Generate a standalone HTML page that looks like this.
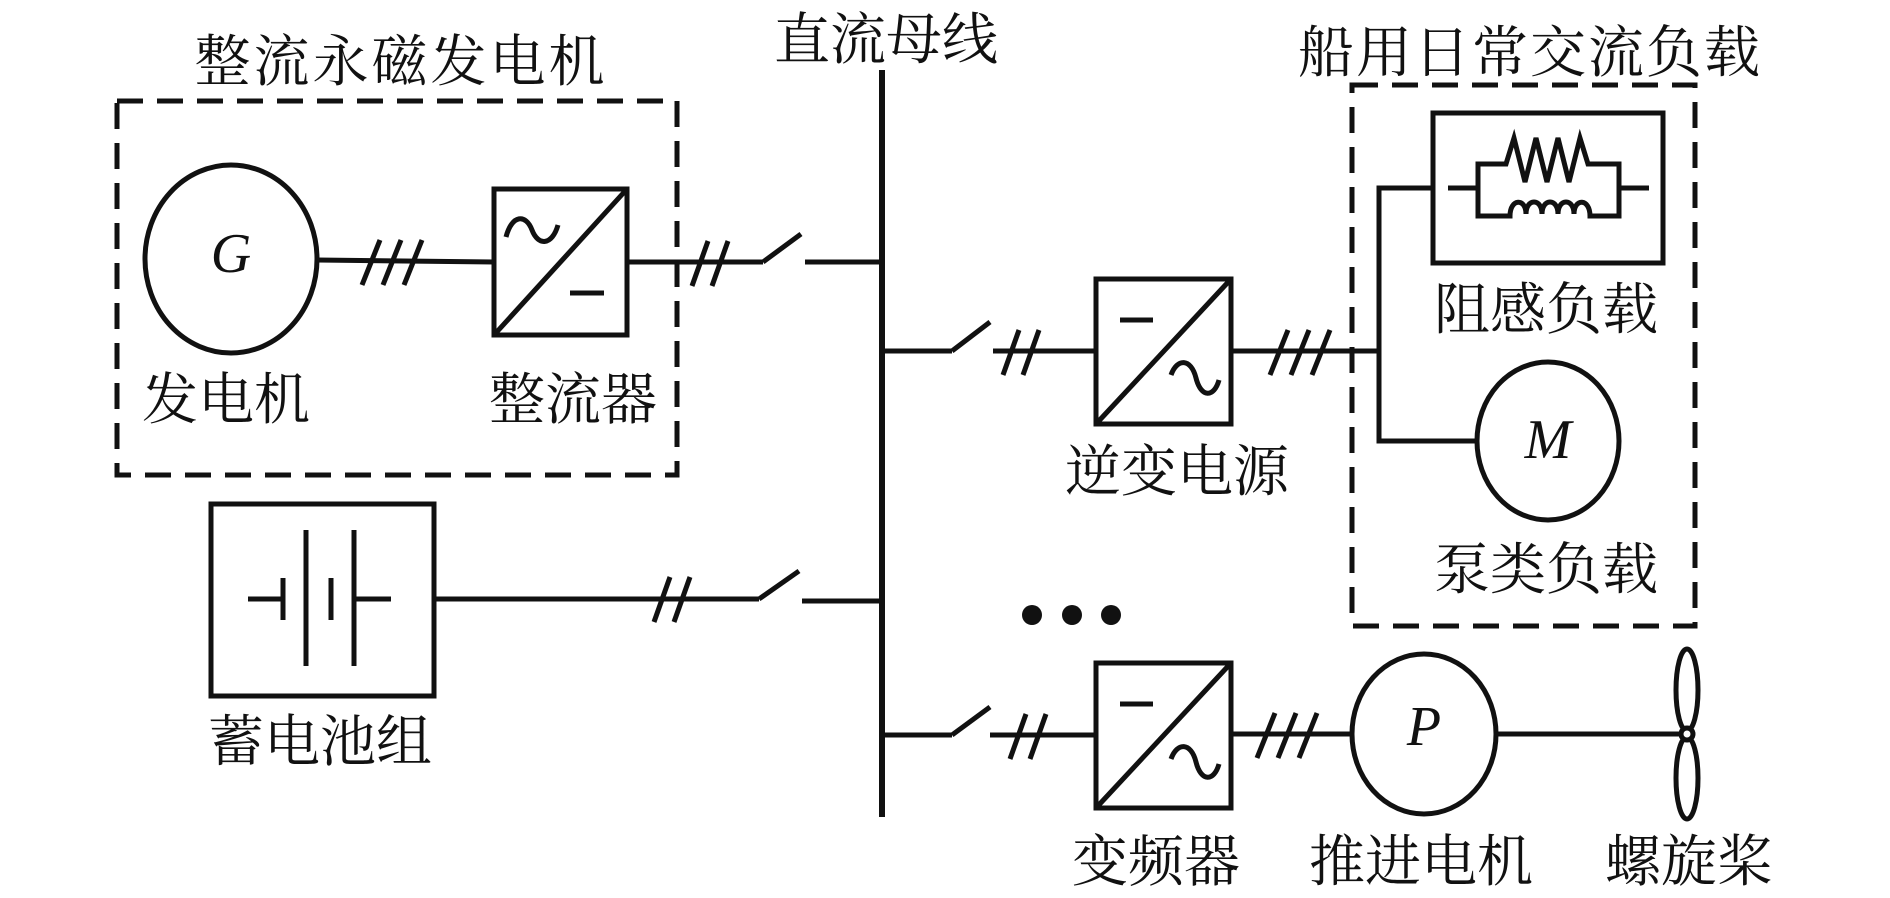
<!DOCTYPE html>
<html><head><meta charset="utf-8"><style>
html,body{margin:0;padding:0;background:#fff;}
svg text{font-family:"Noto Serif CJK SC","Liberation Serif",serif;font-size:56px;fill:#111;}
svg .it{font-family:"Liberation Serif",serif;font-style:italic;font-size:56px;}
</style></head><body>
<svg width="1890" height="893" viewBox="0 0 1890 893" xmlns="http://www.w3.org/2000/svg">
<g stroke="#111" stroke-width="5" fill="none">
<rect x="117" y="101" width="560" height="374" stroke-dasharray="26,14"/>
<rect x="1352" y="85" width="343" height="541" stroke-dasharray="26,14"/>
<line x1="882" y1="70" x2="882" y2="817" stroke-width="6"/>
<ellipse cx="231" cy="259" rx="86" ry="94"/>
<line x1="317" y1="260" x2="494" y2="262"/>
<line x1="362" y1="285" x2="380" y2="240"/><line x1="383" y1="285" x2="401" y2="240"/><line x1="404" y1="285" x2="422" y2="240"/>
<rect x="494" y="189" width="133" height="146"/>
<line x1="494" y1="335" x2="627" y2="189"/>
<path d="M506,237 C512,214 526,214 532,230 C538,246 552,246 558,225"/>
<line x1="570" y1="293" x2="604" y2="293"/>
<line x1="627" y1="262" x2="763" y2="262"/>
<line x1="692" y1="286" x2="708" y2="241"/><line x1="712" y1="286" x2="728" y2="241"/>
<line x1="763" y1="262" x2="801" y2="234"/>
<line x1="805" y1="262" x2="882" y2="262"/>
<rect x="211" y="504" width="223" height="192"/>
<line x1="248" y1="599" x2="283" y2="599"/>
<line x1="283" y1="578" x2="283" y2="620"/>
<line x1="306" y1="530" x2="306" y2="666"/>
<line x1="331" y1="578" x2="331" y2="620"/>
<line x1="354" y1="530" x2="354" y2="666"/>
<line x1="356" y1="599" x2="391" y2="599"/>
<line x1="434" y1="599" x2="759" y2="599"/>
<line x1="654" y1="622" x2="670" y2="577"/><line x1="674" y1="622" x2="690" y2="577"/>
<line x1="759" y1="599" x2="799" y2="571"/>
<line x1="802" y1="601" x2="882" y2="601"/>
<line x1="882" y1="351" x2="952" y2="351"/>
<line x1="952" y1="351" x2="990" y2="322"/>
<line x1="993" y1="351" x2="1096" y2="351"/>
<line x1="1003" y1="375" x2="1019" y2="330"/><line x1="1023" y1="375" x2="1039" y2="330"/>
<rect x="1096" y="279" width="135" height="145"/>
<line x1="1096" y1="424" x2="1231" y2="279"/>
<line x1="1120" y1="320" x2="1153" y2="320"/>
<path d="M1171,375 C1177,358 1191,358 1196,378 C1201,398 1214,398 1219,380"/>
<line x1="1231" y1="351" x2="1379" y2="351"/>
<line x1="1270" y1="375" x2="1288" y2="330"/><line x1="1291" y1="375" x2="1309" y2="330"/><line x1="1312" y1="375" x2="1330" y2="330"/>
<polyline points="1433,188 1379,188 1379,441 1476,441"/>
<rect x="1433" y="113" width="230" height="150"/>
<line x1="1448" y1="188" x2="1478" y2="188"/>
<line x1="1620" y1="188" x2="1649" y2="188"/>
<path d="M1478,188 L1478,164 L1506,164 L1514,138 L1525,182 L1536,138 L1547,182 L1558,138 L1569,182 L1580,138 L1588,164 L1619,164 L1619,188"/>
<path d="M1478,188 L1478,216 L1510,216 C1510,198 1526,198 1526,214 C1526,198 1542,198 1542,214 C1542,198 1558,198 1558,214 C1558,198 1574,198 1574,214 C1574,198 1590,198 1590,216 L1619,216 L1619,188"/>
<ellipse cx="1548" cy="441" rx="71" ry="79"/>
<line x1="882" y1="735" x2="952" y2="735"/>
<line x1="952" y1="735" x2="990" y2="707"/>
<line x1="990" y1="735" x2="1096" y2="735"/>
<line x1="1010" y1="759" x2="1026" y2="714"/><line x1="1030" y1="759" x2="1046" y2="714"/>
<rect x="1096" y="663" width="135" height="145"/>
<line x1="1096" y1="808" x2="1231" y2="663"/>
<line x1="1120" y1="704" x2="1153" y2="704"/>
<path d="M1171,759 C1177,742 1191,742 1196,762 C1201,782 1214,782 1219,764"/>
<line x1="1231" y1="734" x2="1352" y2="734"/>
<line x1="1257" y1="758" x2="1275" y2="713"/><line x1="1278" y1="758" x2="1296" y2="713"/><line x1="1299" y1="758" x2="1317" y2="713"/>
<ellipse cx="1424" cy="734" rx="72" ry="80"/>
<line x1="1496" y1="734" x2="1680" y2="734"/>
<ellipse cx="1687" cy="690" rx="11" ry="41"/>
<ellipse cx="1687" cy="778" rx="11" ry="41"/>
<circle cx="1687" cy="734" r="6" fill="#fff"/>
</g>
<g fill="#111">
<circle cx="1032" cy="615" r="10"/><circle cx="1072" cy="615" r="10"/><circle cx="1111" cy="615" r="10"/>
</g>
<g text-anchor="middle" dominant-baseline="central">
<text x="401" y="58" letter-spacing="3">整流永磁发电机</text>
<text x="886" y="36">直流母线</text>
<text x="1530" y="49" letter-spacing="2">船用日常交流负载</text>
<text x="226" y="396">发电机</text>
<text x="573" y="396">整流器</text>
<text x="320" y="738">蓄电池组</text>
<text x="1177" y="468">逆变电源</text>
<text x="1546" y="306">阻感负载</text>
<text x="1546" y="566">泵类负载</text>
<text x="1156" y="858">变频器</text>
<text x="1421" y="858">推进电机</text>
<text x="1689" y="858">螺旋桨</text>
<text class="it" x="231" y="254">G</text>
<text class="it" x="1548" y="440">M</text>
<text class="it" x="1424" y="727">P</text>
</g>
</svg>
</body></html>
